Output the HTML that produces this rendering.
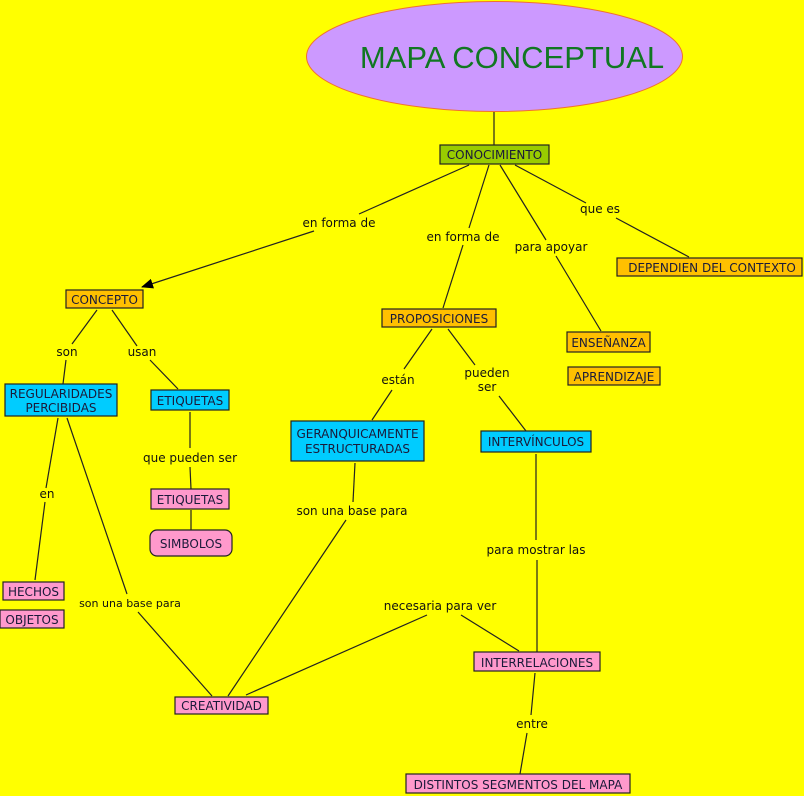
<!DOCTYPE html>
<html><head><meta charset="utf-8">
<style>
html,body{margin:0;padding:0;background:#ffff00;}
svg{display:block;}
text{font-family:"DejaVu Sans","Liberation Sans",sans-serif;font-size:12px;fill:#111;}
.b text,text.b{fill:#1a1a3a;}
</style></head>
<body>
<svg width="804" height="796" viewBox="0 0 804 796" xmlns="http://www.w3.org/2000/svg">
<rect x="0" y="0" width="804" height="796" fill="#ffff00"/>
<defs><marker id="ar" markerWidth="12" markerHeight="10" refX="11" refY="5" orient="auto" markerUnits="userSpaceOnUse"><path d="M0,0 L12,5 L0,10 z" fill="#000"/></marker></defs>
<ellipse cx="494.5" cy="56.5" rx="188" ry="55" fill="#cc99ff" stroke="#f07030" stroke-width="1"/>
<text x="512" y="68" text-anchor="middle" style="font-family:'Liberation Sans',sans-serif;font-size:31px;fill:#117722">MAPA CONCEPTUAL</text>

<g stroke="#222" stroke-width="1.2" fill="none">
<line x1="494" y1="112" x2="494" y2="145"/>
<line x1="469" y1="165" x2="359" y2="214"/>
<line x1="314" y1="231" x2="142" y2="287" marker-end="url(#ar)"/>
<line x1="489" y1="165" x2="469" y2="228"/>
<line x1="463" y1="245" x2="443" y2="308"/>
<line x1="500" y1="165" x2="546" y2="240"/>
<line x1="556" y1="256" x2="601" y2="331"/>
<line x1="515" y1="165" x2="586" y2="203"/>
<line x1="616" y1="218" x2="689" y2="257"/>
<line x1="97" y1="310" x2="72" y2="344"/>
<line x1="66" y1="360" x2="63" y2="384"/>
<line x1="112" y1="310" x2="137" y2="346"/>
<line x1="150" y1="360" x2="178" y2="389"/>
<line x1="190" y1="412" x2="190" y2="448"/>
<line x1="190" y1="467" x2="191" y2="489"/>
<line x1="191" y1="510" x2="191" y2="530"/>
<line x1="58" y1="418" x2="46" y2="488"/>
<line x1="45" y1="502" x2="35" y2="580"/>
<line x1="67" y1="418" x2="127" y2="594"/>
<line x1="138" y1="612" x2="212" y2="696"/>
<line x1="432" y1="329" x2="404" y2="369"/>
<line x1="392" y1="390" x2="372" y2="420"/>
<line x1="448" y1="329" x2="475" y2="365"/>
<line x1="499" y1="396" x2="526" y2="431"/>
<line x1="355" y1="463" x2="353" y2="502"/>
<line x1="346" y1="520" x2="228" y2="696"/>
<line x1="536" y1="454" x2="536" y2="540"/>
<line x1="537" y1="560" x2="537" y2="652"/>
<line x1="427" y1="615" x2="246" y2="695"/>
<line x1="461" y1="615" x2="519" y2="651"/>
<line x1="535" y1="673" x2="531" y2="715"/>
<line x1="527" y1="733" x2="520" y2="774"/>
</g>

<g stroke="#222" stroke-width="1.2">
<rect x="440" y="145" width="109" height="19" fill="#99cc00"/>
<rect x="66" y="290" width="77" height="18" fill="#ffc000"/>
<rect x="382" y="309" width="114" height="18" fill="#ffc000"/>
<rect x="567" y="332" width="83" height="20" fill="#ffc000"/>
<rect x="568" y="367" width="92" height="18" fill="#ffc000"/>
<rect x="617" y="258" width="185" height="18" fill="#ffc000"/>
<rect x="5" y="384" width="112" height="32" fill="#00ccff"/>
<rect x="151" y="390" width="78" height="20" fill="#00ccff"/>
<rect x="291" y="421" width="133" height="40" fill="#00ccff"/>
<rect x="481" y="431" width="110" height="21" fill="#00ccff"/>
<rect x="151" y="489" width="78" height="20" fill="#ff99cc"/>
<rect x="150" y="530" width="82" height="26" rx="7" fill="#ff99cc"/>
<rect x="3" y="582" width="61" height="18" fill="#ff99cc"/>
<rect x="0" y="610" width="64" height="18" fill="#ff99cc"/>
<rect x="175" y="697" width="93" height="17" fill="#ff99cc"/>
<rect x="474" y="652" width="126" height="19" fill="#ff99cc"/>
<rect x="406" y="774" width="224" height="19" fill="#ff99cc"/>
</g>

<g class="b" text-anchor="middle">
<text x="494.5" y="159">CONOCIMIENTO</text>
<text x="104.5" y="304">CONCEPTO</text>
<text x="439" y="323">PROPOSICIONES</text>
<text x="608.5" y="347">ENSEÑANZA</text>
<text x="614" y="381">APRENDIZAJE</text>
<text x="712" y="272">DEPENDIEN DEL CONTEXTO</text>
<text x="61" y="398">REGULARIDADES</text>
<text x="61" y="412">PERCIBIDAS</text>
<text x="190" y="405">ETIQUETAS</text>
<text x="357.5" y="438">GERANQUICAMENTE</text>
<text x="357.5" y="453">ESTRUCTURADAS</text>
<text x="536" y="446">INTERVÍNCULOS</text>
<text x="190" y="504">ETIQUETAS</text>
<text x="191" y="548">SIMBOLOS</text>
<text x="33.5" y="596">HECHOS</text>
<text x="32" y="624">OBJETOS</text>
<text x="221.5" y="710">CREATIVIDAD</text>
<text x="537" y="667">INTERRELACIONES</text>
<text x="518" y="789">DISTINTOS SEGMENTOS DEL MAPA</text>
</g>

<g text-anchor="middle">
<text x="339" y="227">en forma de</text>
<text x="463" y="241">en forma de</text>
<text x="551" y="251">para apoyar</text>
<text x="600" y="213">que es</text>
<text x="67" y="356">son</text>
<text x="142" y="356">usan</text>
<text x="190" y="462">que pueden ser</text>
<text x="47" y="498">en</text>
<text x="130" y="607" style="font-size:11px">son una base para</text>
<text x="398" y="384">están</text>
<text x="487" y="377">pueden</text>
<text x="487" y="391">ser</text>
<text x="352" y="515">son una base para</text>
<text x="536" y="554">para mostrar las</text>
<text x="440" y="610">necesaria para ver</text>
<text x="532" y="728">entre</text>
</g>
</svg>
</body></html>
